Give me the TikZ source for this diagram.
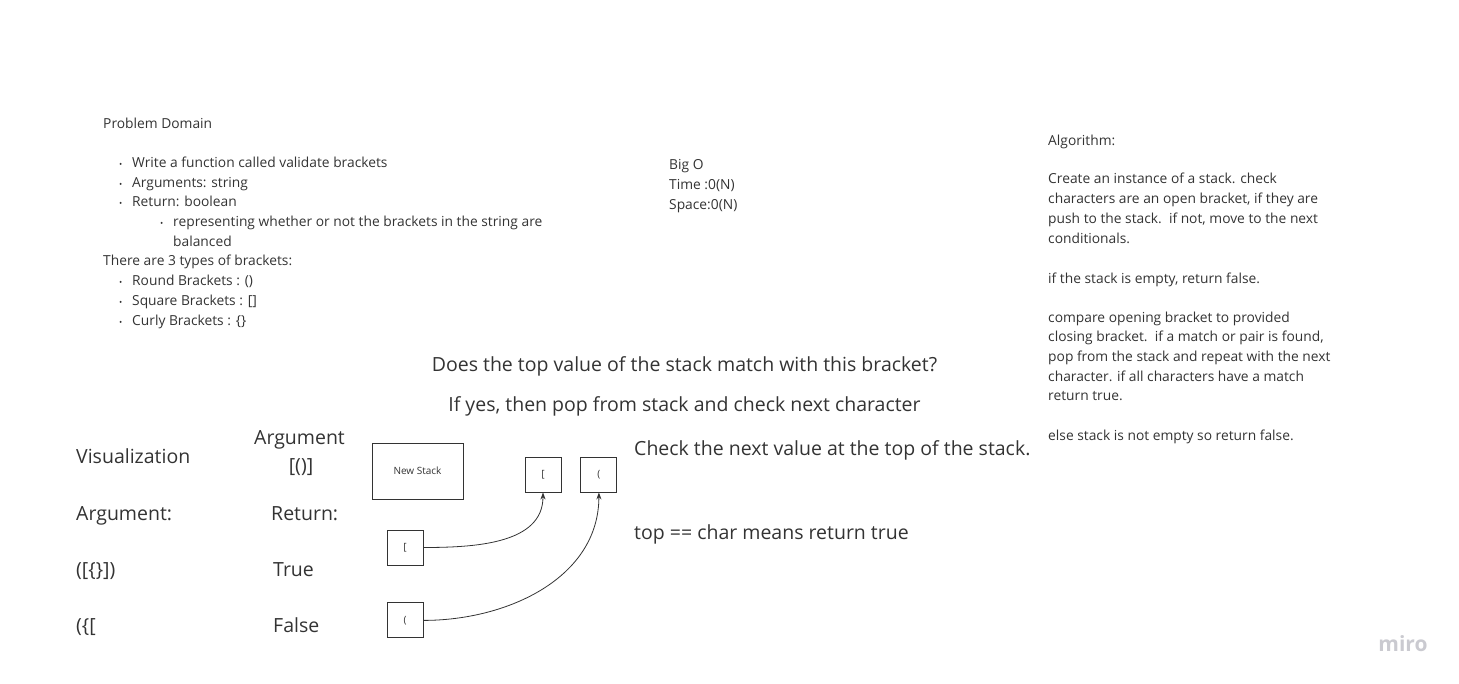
\documentclass[tikz,border=0pt]{standalone}
\usepackage{fontspec}
\setmainfont{Open Sans}
\usetikzlibrary{arrows.meta,positioning}
\definecolor{ink}{HTML}{333333}
\definecolor{logogray}{HTML}{CACAD0}

\tikzset{
	note/.style={anchor=base west, inner sep=0pt, text=ink, font=\fontsize{13.8}{16}\selectfont},
	big/.style={anchor=base west, inner sep=0pt, text=ink, font=\fontsize{19.5}{23}\selectfont},
	box/.style={draw=ink, line width=0.9pt, minimum width=36pt, minimum height=35pt, inner sep=0pt, text=ink, font=\fontsize{10}{12}\selectfont},
	link/.style={draw=ink, line width=0.8pt, -{Stealth[length=7pt,width=5pt]}}
}
\newcommand{\bul}{\makebox[0pt][r]{\fontsize{8.5}{8.5}\selectfont\textbullet\hspace{10pt}}}

\begin{document}
\begin{tikzpicture}[x=1pt, y=-1pt]
	\useasboundingbox (0,0) rectangle (1459,684);

	% problem domain
	\node[note] (pd) at (103,128.5) {Problem Domain};
	\node[note] (pd1) at (132,167.5) {\bul Write a function called validate brackets};
	\node[note] (pd2) at (132,187.5) {\bul Arguments: string};
	\node[note] (pd3) at (132,206.5) {\bul Return: boolean};
	\node[note] (pd4) at (173,226.5) {\bul representing whether or not the brackets in the string are};
	\node[note] (pd5) at (173,246.5) {balanced};
	\node[note] (ty) at (103,265.5) {There are 3 types of brackets:};
	\node[note] (ty1) at (132,285.5) {\bul Round Brackets : ()};
	\node[note] (ty2) at (132,305.5) {\bul Square Brackets : []};
	\node[note] (ty3) at (132,325.5) {\bul Curly Brackets : \{\}};

	% big o
	\node[note] (bo) at (669,169.5) {Big O};
	\node[note] (bo1) at (669,189.5) {Time :0(N)};
	\node[note] (bo2) at (669,209.5) {Space:0(N)};

	% algorithm
	\node[note] (al) at (1048,145.5) {Algorithm:};
	\node[note] (al1) at (1048,183.5) {Create an instance of a stack. check};
	\node[note] (al2) at (1048,203.5) {characters are an open bracket, if they are};
	\node[note] (al3) at (1048,223.5) {push to the stack.\ \ if not, move to the next};
	\node[note] (al4) at (1048,243.5) {conditionals.};
	\node[note] (al5) at (1048,283.5) {if the stack is empty, return false.};
	\node[note] (al6) at (1048,322.5) {compare opening bracket to provided};
	\node[note] (al7) at (1048,341.5) {closing bracket.\ \ if a match or pair is found,};
	\node[note] (al8) at (1048,361.5) {pop from the stack and repeat with the next};
	\node[note] (al9) at (1048,381.5) {character. if all characters have a match};
	\node[note] (al10) at (1048,400.5) {return true.};
	\node[note] (al11) at (1048,440.5) {else stack is not empty so return false.};

	% questions
	\node[big, anchor=base] (q1) at (684.5,372) {Does the top value of the stack match with this bracket?};
	\node[big, anchor=base] (q2) at (684.5,411) {If yes, then pop from stack and check next character};
	\node[big] (c1) at (634,455) {Check the next value at the top of the stack.};
	\node[big] (c2) at (634,539) {top == char means return true};

	% visualization table
	\node[big] (vis) at (76,463) {Visualization};
	\node[big, anchor=base] (arg) at (299.5,444) {Argument};
	\node[big, anchor=base] (argv) at (301,472) {[()]};
	\node[big] (ah) at (76,520) {Argument:};
	\node[big] (rh) at (271,520) {Return:};
	\node[big] (a1) at (76,576) {([\{\}])};
	\node[big] (r1) at (273,576) {True};
	\node[big] (a2) at (76,632) {(\{[};
	\node[big] (r2) at (273,632) {False};

	% stack boxes
	\node[box, minimum width=91pt, minimum height=56pt] (ns) at (417.5,471) {New Stack};
	\node[box] (t1) at (543,474.5) {[};
	\node[box, right=19pt of t1] (t2) {(};
	\node[box] (b1) at (405,547.5) {[};
	\node[box, below=37pt of b1] (b2) {(};

	\path[link]
		(b1) edge[out=0, in=-90] (t1)
		(b2) edge[out=0, in=-90] (t2);

	\node[text=logogray, font=\bfseries\fontsize{21}{24}\selectfont] (logo) at (1403,644) {miro};
\end{tikzpicture}
\end{document}
